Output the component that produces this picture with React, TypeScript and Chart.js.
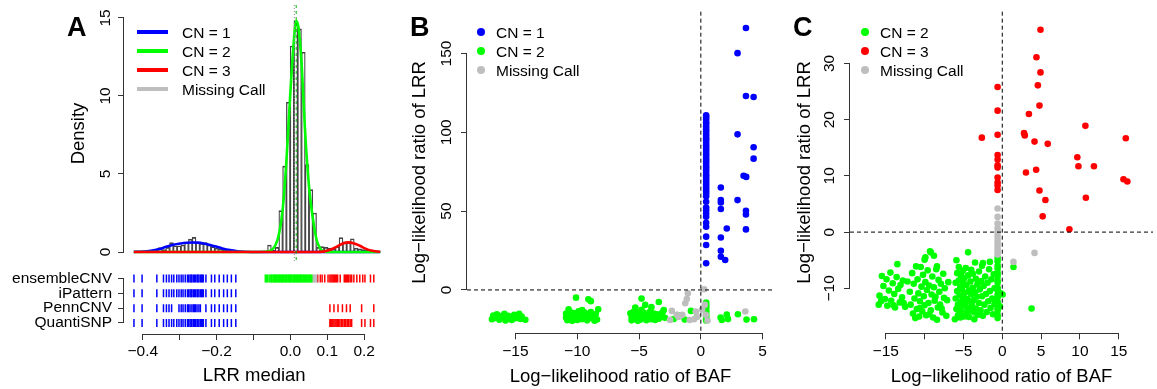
import React, { useEffect, useRef } from "react";
import { Chart, registerables } from "chart.js";

Chart.register(...registerables);

const FONT = "'Liberation Sans', Arial, Helvetica, sans-serif";
const BLUE = "#0000FF";
const GREEN = "#00FF00";
const RED = "#FF0000";
const GREY = "#BEBEBE";
const AXIS = "#333333";
const TICK_SIZE = 15.5;
const TITLE_SIZE = 18.5;

Chart.defaults.font.family = FONT;

type Pt = [number, number];

// ---------- Panel A: LRR median histogram and fitted densities ----------
const histBinCenters = [
  -0.415, -0.405, -0.395, -0.385, -0.375, -0.365, -0.355, -0.345, -0.335, -0.325,
  -0.315, -0.305, -0.295, -0.285, -0.275, -0.265, -0.255, -0.245, -0.235, -0.225,
  -0.215, -0.205, -0.195, -0.185, -0.175, -0.165, -0.155, -0.145, -0.135, -0.125,
  -0.115, -0.105, -0.095, -0.085, -0.075, -0.065, -0.055, -0.045, -0.035, -0.025,
  -0.015, -0.005, 0.005, 0.015, 0.025, 0.035, 0.045, 0.055, 0.065, 0.075,
  0.085, 0.095, 0.105, 0.115, 0.125, 0.135, 0.145, 0.155, 0.165, 0.175,
  0.185, 0.195, 0.205, 0.215, 0.225,
];
const histDensity = [
  0.08, 0.08, 0, 0, 0, 0.15, 0.28, 0.15, 0.3, 0.6,
  0.4, 0.4, 0.45, 0.6, 0.83, 0.94, 0.6, 0.55, 0.6, 0.45,
  0.35, 0.25, 0.2, 0.15, 0.1, 0.08, 0.05, 0.05, 0, 0,
  0, 0, 0, 0, 0, 0.45, 0.1, 0.3, 2.65, 5.5,
  9.6, 13.2, 14.8, 14.3, 12.8, 5.6, 4.0, 2.5, 0.3, 0.35,
  0.3, 0.25, 0.2, 0.35, 0.92, 0.66, 0.6, 0.85, 0.25, 0.2,
  0.15, 0.1, 0.08, 0.05, 0.05,
];

const cn1CurveX = [-0.425, -0.4, -0.38, -0.36, -0.34, -0.32, -0.3, -0.285, -0.27, -0.255, -0.24, -0.225, -0.21, -0.19, -0.17, -0.15, -0.13, -0.11, -0.09, 0.229];
const cn1CurveY = [0.01, 0.03, 0.08, 0.17, 0.33, 0.47, 0.55, 0.59, 0.61, 0.6, 0.55, 0.47, 0.37, 0.23, 0.12, 0.05, 0.015, 0.004, 0, 0];
const cn2CurveX = [-0.425, -0.09, -0.07, -0.06, -0.05, -0.04, -0.03, -0.02, -0.01, 0.0, 0.006, 0.012, 0.02, 0.03, 0.04, 0.05, 0.06, 0.07, 0.08, 0.1, 0.229];
const cn2CurveY = [0, 0, 0.03, 0.12, 0.4, 1.1, 2.7, 5.8, 10.0, 13.6, 14.8, 14.4, 12.2, 7.6, 4.2, 2.2, 0.8, 0.22, 0.05, 0, 0];
const cn3CurveX = [-0.425, 0.06, 0.08, 0.1, 0.115, 0.13, 0.145, 0.16, 0.175, 0.19, 0.205, 0.22, 0.229];
const cn3CurveY = [0, 0, 0.04, 0.18, 0.36, 0.54, 0.62, 0.55, 0.4, 0.22, 0.09, 0.03, 0.015];

// median LRR of the called CN=2 / all regions
const peakMarkers = { all: 0.001, cn2: 0.006 };

// ---------- Panel A: calls by each method ----------
const rugRowNames = ["QuantiSNP", "PennCNV", "iPattern", "ensembleCNV"];
const ensembleCN1 = [
  -0.424, -0.402, -0.362, -0.344, -0.336, -0.329, -0.322, -0.316, -0.308, -0.302,
  -0.296, -0.291, -0.285, -0.279, -0.276, -0.272, -0.269, -0.267, -0.263, -0.26,
  -0.257, -0.253, -0.251, -0.248, -0.244, -0.241, -0.239, -0.236, -0.229, -0.214,
  -0.205, -0.193, -0.181, -0.171, -0.16, -0.148,
];
const iPatternCN1 = ensembleCN1;
const pennCN1 = [
  -0.424, -0.402, -0.362, -0.344, -0.336, -0.329, -0.322, -0.302, -0.296, -0.291,
  -0.285, -0.279, -0.276, -0.272, -0.267, -0.263, -0.26, -0.257, -0.253, -0.248,
  -0.244, -0.229, -0.214, -0.205, -0.193, -0.181, -0.171, -0.16, -0.148,
];
const quantiCN1 = ensembleCN1;
const ensembleCN2 = [
  -0.068, -0.065, -0.062, -0.058, -0.055, -0.052, -0.05, -0.047, -0.045, -0.043,
  -0.04, -0.038, -0.036, -0.033, -0.031, -0.029, -0.027, -0.024, -0.022, -0.02,
  -0.018, -0.015, -0.013, -0.011, -0.009, -0.006, -0.004, -0.002, 0.0, 0.002,
  0.004, 0.007, 0.009, 0.011, 0.013, 0.016, 0.018, 0.02, 0.022, 0.025,
  0.027, 0.029, 0.031, 0.034, 0.036, 0.038, 0.041, 0.043, 0.045, 0.048,
  0.05, 0.052, 0.055, 0.058,
];
const ensembleMissing = [0.06, 0.063, 0.066, 0.068, 0.071];
const ensembleCN3 = [
  0.074, 0.081, 0.086, 0.093, 0.102, 0.107, 0.11, 0.113, 0.116, 0.119,
  0.122, 0.125, 0.128, 0.135, 0.146, 0.149, 0.152, 0.155, 0.158, 0.162,
  0.166, 0.172, 0.18, 0.188, 0.196, 0.202, 0.217, 0.226,
];
const pennCN3 = [0.107, 0.118, 0.129, 0.141, 0.152, 0.162, 0.193, 0.226];
const quantiCN3 = [
  0.107, 0.109, 0.112, 0.115, 0.118, 0.121, 0.124, 0.127, 0.13, 0.134,
  0.138, 0.142, 0.146, 0.15, 0.154, 0.158, 0.162, 0.166, 0.193, 0.202,
  0.217, 0.226,
];

// ---------- Panel B: deletions (BAF LLR, LRR LLR) ----------
const delCN1: Pt[] = [
  [0.43, 110.8], [0.43, 109.6], [0.43, 108.1], [0.43, 106.4], [0.43, 105.2], [0.43, 103.7],
  [0.43, 102.0], [0.43, 100.6], [0.43, 99.1], [0.43, 97.8], [0.43, 96.2], [0.43, 94.9],
  [0.43, 93.3], [0.43, 91.8], [0.43, 90.4], [0.43, 88.9], [0.43, 87.5], [0.43, 86.1],
  [0.43, 84.6], [0.43, 83.0], [0.43, 81.7], [0.43, 80.2], [0.43, 78.6], [0.43, 77.3],
  [0.43, 75.9], [0.43, 74.2], [0.43, 72.8], [0.43, 71.4], [0.43, 69.9], [0.43, 68.4],
  [0.43, 67.0], [0.43, 65.5], [0.43, 64.1], [0.43, 62.6], [0.43, 61.2], [0.43, 59.4],
  [0.43, 55.9], [0.43, 52.3], [0.43, 50.6], [0.43, 48.5], [0.43, 46.4], [0.43, 42.6],
  [0.43, 40.1], [0.43, 33.8], [0.43, 28.5], [0.43, 16.9],
  [1.62, 65], [1.62, 57], [1.62, 55.5], [1.62, 51.3], [1.62, 33.3], [1.62, 24.9], [1.62, 21.1],
  [1.97, 19], [2.1, 39], [2.97, 150.2], [2.97, 98.7], [2.97, 57], [3.46, 72.4], [3.67, 71.7],
  [3.65, 166.2], [3.65, 123], [3.65, 50.2], [3.65, 47.9], [3.65, 38.4], [4.27, 122.4],
  [4.27, 90.5], [4.27, 83.3],
];
const delCN2: Pt[] = [
  [-16.8, -16.2], [-16.6, -17.8], [-16.5, -15.4], [-16.3, -18.9], [-16.2, -16.7], [-16.0, -17.5],
  [-15.9, -15.1], [-15.7, -18.2], [-15.6, -16.4], [-15.4, -17.2], [-15.3, -19.1], [-15.1, -15.8],
  [-15.0, -17.9], [-14.9, -16.5], [-14.7, -15.2], [-14.6, -18.4], [-14.5, -16.9], [-16.9, -18.6],
  [-15.8, -19.4], [-14.2, -18.9],
  [-10.9, -15.0], [-10.9, -17.5], [-10.8, -19.2], [-10.7, -16.1], [-10.6, -13.9], [-10.6, -18.3],
  [-10.5, -15.4], [-10.4, -17.0], [-10.4, -19.6], [-10.3, -14.6], [-10.2, -16.4], [-10.1, -18.1],
  [-10.0, -15.7], [-10.0, -19.0], [-9.9, -13.6], [-9.8, -17.3], [-9.7, -15.2], [-9.6, -18.6],
  [-9.5, -16.5], [-9.4, -14.3], [-9.3, -17.8], [-9.2, -19.3], [-9.1, -15.8], [-9.0, -16.9],
  [-8.9, -14.0], [-8.8, -18.0], [-8.7, -16.2], [-8.6, -19.5], [-8.5, -15.3], [-8.3, -12.3],
  [-8.4, -18.7], [-10.1, -4.9], [-9.1, -5.9], [-8.9, -7.1], [-10.7, -12.2], [-9.6, -12.8],
  [-8.6, -17.4],
  [-5.7, -14.8], [-5.6, -17.2], [-5.6, -19.3], [-5.5, -16.0], [-5.4, -13.5], [-5.4, -18.4],
  [-5.3, -15.3], [-5.2, -17.6], [-5.1, -19.6], [-5.1, -14.2], [-5.0, -16.6], [-4.9, -18.9],
  [-4.8, -15.6], [-4.8, -12.6], [-4.7, -17.9], [-4.6, -14.5], [-4.5, -16.8], [-4.4, -19.2],
  [-4.3, -15.1], [-4.2, -17.5], [-4.1, -13.7], [-4.0, -18.6], [-3.9, -16.2], [-3.8, -14.9],
  [-3.7, -19.0], [-3.6, -17.0], [-3.5, -15.5], [-3.4, -18.2], [-3.2, -16.4], [-3.1, -14.1],
  [-3.0, -12.7], [-2.9, -17.7], [-4.8, -5.5], [-4.5, -9.5], [-3.4, -7.6], [-5.3, -11.2],
  [-4.0, -10.9],
  [-2.2, -18.4], [-1.9, -16.0], [-1.3, -18.8], [-0.8, -13.3], [-0.3, -16.9],
  [0.43, -8.0], [0.43, -9.3], [0.43, -10.2], [0.43, -11.1], [0.43, -12.1], [0.43, -13.5],
  [0.43, -14.7], [0.43, -15.8], [0.43, -16.9], [0.43, -17.8], [0.43, -18.6], [0.43, -19.4],
  [1.6, -17.5], [2.1, -15.6], [2.2, -18.5], [3.0, -15.4], [3.7, -18.8], [4.3, -18.6], [1.7, -19.0],
];
const delMissing: Pt[] = [
  [-1.05, -2.1], [-1.13, -5.7], [-1.26, -8.4], [-2.35, -13.3], [-2.49, -19.0], [-1.95, -15.8],
  [-1.5, -15.8], [-0.41, -13.7], [-0.27, -16.9], [-0.54, -18.6], [0.27, 0.4], [0.32, -9.5],
  [0.4, -15.8], [0.54, -19.4], [3.6, -13.7], [-1.8, -17.2], [-0.9, -19.1], [0.1, -12.4],
];

// ---------- Panel C: duplications (BAF LLR, LRR LLR) ----------
const dupCN2: Pt[] = [
  [-15.9, -12.9], [-15.8, -11.3], [-15.5, -7.8], [-15.3, -9.6], [-15.1, -11.9], [-14.9, -8.4],
  [-14.8, -13.1], [-14.6, -10.4], [-14.4, -7.2], [-14.3, -12.2], [-14.1, -9.1], [-13.9, -11.0],
  [-13.8, -13.4], [-13.6, -8.0], [-13.5, -5.7], [-13.4, -10.1], [-13.2, -12.5], [-13.1, -9.4],
  [-12.9, -11.6], [-12.8, -8.6], [-12.7, -12.6], [-12.5, -13.3], [-12.2, -8.8], [-15.6, -12.3],
  [-14.0, -13.0],
  [-11.9, -10.6], [-11.8, -12.9], [-11.6, -7.3], [-11.5, -14.5], [-11.4, -9.2], [-11.3, -11.8],
  [-11.1, -6.1], [-11.0, -13.7], [-10.9, -8.4], [-10.8, -10.9], [-10.7, -15.0], [-10.6, -12.3],
  [-10.5, -6.2], [-10.4, -9.7], [-10.3, -14.1], [-10.2, -7.6], [-10.1, -11.4], [-10.0, -13.0],
  [-9.9, -4.5], [-9.9, -8.9], [-9.8, -14.8], [-9.7, -10.3], [-9.6, -6.8], [-9.5, -12.6],
  [-9.4, -9.5], [-9.3, -3.4], [-9.2, -13.9], [-9.2, -3.6], [-9.1, -11.1], [-9.0, -7.9],
  [-8.9, -15.2], [-8.8, -9.8], [-8.7, -12.2], [-8.6, -11.5], [-8.5, -6.6], [-8.4, -6.1],
  [-8.4, -15.6], [-8.3, -13.4], [-8.2, -8.5], [-8.1, -10.6], [-8.0, -12.9], [-7.9, -9.2],
  [-7.7, -14.3], [-7.6, -7.4], [-7.5, -11.7], [-7.4, -10.0], [-11.2, -15.3], [-10.0, -4.9],
  [-8.8, -4.2], [-7.8, -13.6], [-6.95, -8.9], [-7.1, -12.1], [-7.2, -14.9], [-10.6, -13.5],
  [-9.4, -14.6],
  [-6.1, -15.5], [-6.0, -11.8], [-6.0, -9.0], [-5.9, -13.7], [-5.9, -5.0], [-5.8, -7.3],
  [-5.8, -10.5], [-5.7, -12.9], [-5.7, -14.8], [-5.6, -6.2], [-5.6, -8.6], [-5.5, -11.2],
  [-5.5, -13.9], [-5.4, -9.7], [-5.4, -15.2], [-5.3, -7.8], [-5.3, -12.4], [-5.2, -10.1],
  [-5.2, -14.2], [-5.1, -6.9], [-5.1, -11.7], [-5.0, -9.1], [-5.0, -13.1], [-4.9, -15.0],
  [-4.9, -8.2], [-4.8, -10.8], [-4.8, -12.7], [-4.7, -6.4], [-4.7, -14.4], [-4.6, -9.4],
  [-4.5, -11.9], [-4.5, -13.4], [-4.4, -3.6], [-4.4, -7.7], [-4.3, -10.4], [-4.3, -15.1],
  [-4.2, -12.3], [-4.1, -8.8], [-4.1, -14.0], [-4.0, -6.7], [-4.0, -11.0], [-3.9, -13.0],
  [-3.8, -9.9], [-3.8, -7.4], [-3.7, -12.1], [-3.6, -15.5], [-3.6, -14.3], [-3.5, -5.4],
  [-3.5, -10.7], [-3.4, -8.3], [-3.4, -13.6], [-3.3, -11.5], [-3.2, -9.3], [-3.1, -14.7],
  [-3.0, -7.0], [-3.0, -12.6], [-2.9, -10.2], [-2.8, -13.9], [-2.7, -8.7], [-2.6, -11.4],
  [-2.5, -5.5], [-2.5, -14.9], [-2.4, -9.6], [-2.3, -12.9], [-2.2, -7.9], [-2.1, -11.0],
  [-2.0, -14.2], [-1.9, -9.0], [-1.8, -12.3], [-1.7, -6.6], [-1.6, -10.5], [-1.5, -13.5],
  [-1.4, -8.4], [-1.3, -11.8], [-1.2, -14.6], [-1.1, -7.5], [-1.0, -10.0], [-1.0, -12.8],
  [-2.6, -6.0], [-1.6, -5.3],
  [-0.6, -4.6], [-0.6, -5.2], [-0.6, -6.0], [-0.6, -6.5], [-0.6, -7.3], [-0.6, -7.8],
  [-0.6, -8.6], [-0.6, -9.0], [-0.6, -9.9], [-0.6, -10.3], [-0.6, -11.1], [-0.6, -11.6],
  [-0.6, -12.4], [-0.6, -12.8], [-0.6, -13.6], [-0.6, -14.0], [-0.6, -14.8], [-0.6, -15.3],
  [0.04, -11.1], [1.44, -6.2], [3.77, -13.6], [-0.2, -10.9], [-0.3, -13.2],
];
const dupCN3: Pt[] = [
  [4.92, 36.0], [4.4, 31.1], [4.92, 28.4], [4.58, 26.1], [4.79, 22.5], [-0.6, 25.8],
  [-0.6, 21.6], [3.43, 21.0], [-2.63, 16.8], [-0.6, 17.3], [2.8, 17.6], [2.9, 17.2],
  [4.15, 16.1], [5.85, 15.7], [10.7, 18.9], [15.9, 16.7], [9.66, 13.3], [9.8, 11.7],
  [11.8, 11.7], [-0.6, 13.7], [-0.6, 12.9], [-0.6, 11.9], [-0.6, 11.5], [-0.6, 9.7],
  [-0.6, 8.8], [-0.6, 8.3], [-0.6, 7.5], [3.05, 10.6], [4.36, 11.1], [4.79, 7.4],
  [5.55, 5.7], [5.2, 2.8], [8.64, 0.5], [10.76, 6.1], [15.6, 9.4], [16.1, 9.0],
];
const dupMissing: Pt[] = [
  [-0.6, 4.2], [-0.6, 2.7], [-0.6, 1.5], [-0.6, 0.7], [-0.6, 0.0], [-0.6, -0.6],
  [-0.6, -1.2], [-0.6, -1.8], [-0.6, -2.4], [-0.6, -3.0], [-0.6, -3.5], [-0.6, -4.0],
  [1.44, -5.3], [4.15, -3.7],
];

// ---------- Axis ticks ----------
const lrrTicks = [-0.4, -0.3, -0.2, -0.1, 0, 0.1, 0.2];
const lrrTickLabels = ["\u22120.4", "", "\u22120.2", "", "0.0", "0.1", "0.2"];
const densityTicks = [0, 5, 10, 15];
const densityTickLabels = ["0", "5", "10", "15"];
const rugTicks = [1, 2, 3, 4];
const bafTicksB = [-15, -10, -5, 0, 5];
const bafTickLabelsB = ["\u221215", "\u221210", "\u22125", "0", "5"];
const llrTicksB = [0, 50, 100, 150];
const llrTickLabelsB = ["0", "50", "100", "150"];
const bafTicksC = [-15, -10, -5, 0, 5, 10, 15];
const bafTickLabelsC = ["\u221215", "", "\u22125", "0", "5", "10", "15"];
const llrTicksC = [-10, 0, 10, 20, 30];
const llrTickLabelsC = ["\u221210", "0", "10", "20", "30"];

const BAF_TITLE = "Log\u2212likelihood ratio of BAF";
const LRR_TITLE = "Log\u2212likelihood ratio of LRR";

// ---------- helpers ----------
const toXY = (pts: Pt[]) => pts.map(([x, y]) => ({ x, y }));
const zipXY = (xs: number[], ys: number[]) => xs.map((x, i) => ({ x, y: ys[i] }));
const rugXY = (vals: number[], row: number) => vals.map((x) => ({ x, y: row }));

interface AxisSpec {
  pos: "left" | "bottom";
  min: number;
  max: number;
  ticks: number[];
  labels: string[];
  size: number;
  labelPad: number;
  rotated?: boolean;
  title?: string;
  titlePad?: number;
  display?: boolean;
}

function axis(s: AxisSpec): any {
  return {
    type: "linear",
    position: s.pos,
    min: s.min,
    max: s.max,
    bounds: "data",
    offset: false,
    display: s.display !== false,
    afterBuildTicks: (sc: any) => {
      sc.ticks = s.ticks.map((value) => ({ value }));
    },
    afterFit: (sc: any) => {
      if (s.pos === "left") sc.width = s.size;
      else sc.height = s.size;
      // labels may overhang the plot region, as in base graphics
      sc.paddingTop = 0;
      sc.paddingBottom = 0;
      sc.paddingLeft = 0;
      sc.paddingRight = 0;
    },
    grid: {
      display: true,
      drawOnChartArea: false,
      drawTicks: true,
      tickLength: 6,
      color: AXIS,
      lineWidth: 1,
      offset: false,
    },
    border: { display: false },
    ticks: {
      autoSkip: false,
      color: "#000",
      padding: s.labelPad,
      font: { family: FONT, size: TICK_SIZE },
      minRotation: s.rotated ? 90 : 0,
      maxRotation: s.rotated ? 90 : 0,
      crossAlign: s.rotated ? "center" : "near",
      callback: (_v: any, i: number) => s.labels[i],
    },
    title: s.title
      ? {
          display: true,
          text: s.title,
          color: "#000",
          font: { family: FONT, size: TITLE_SIZE, lineHeight: 1.2 },
          padding: s.pos === "left" ? { top: s.titlePad, bottom: 0 } : { top: 0, bottom: s.titlePad },
        }
      : { display: false },
  };
}

// R-style axis line running from the first to the last tick
const axisLinePlugin = {
  id: "axisLine",
  afterDraw(chart: any) {
    const ctx = chart.ctx;
    ctx.save();
    ctx.strokeStyle = AXIS;
    ctx.lineWidth = 1;
    Object.values(chart.scales).forEach((s: any) => {
      if (!s.options.display || !s.ticks.length) return;
      const a = s.getPixelForValue(s.ticks[0].value);
      const b = s.getPixelForValue(s.ticks[s.ticks.length - 1].value);
      ctx.beginPath();
      if (s.isHorizontal()) {
        const y = Math.round(s.top) + 0.5;
        ctx.moveTo(a, y);
        ctx.lineTo(b, y);
      } else {
        const x = Math.round(s.right) - 0.5;
        ctx.moveTo(x, a);
        ctx.lineTo(x, b);
      }
      ctx.stroke();
    });
    ctx.restore();
  },
};

interface RefLine {
  axis: "x" | "y";
  value: number;
  color: string;
  dash: number[];
  width: number;
}

function refLinePlugin(lines: RefLine[]) {
  return {
    id: "refLines",
    afterDatasetsDraw(chart: any) {
      const { ctx, chartArea } = chart;
      ctx.save();
      lines.forEach((l) => {
        ctx.strokeStyle = l.color;
        ctx.lineWidth = l.width;
        ctx.setLineDash(l.dash);
        ctx.beginPath();
        if (l.axis === "x") {
          const px = chart.scales.x.getPixelForValue(l.value);
          ctx.moveTo(px, chartArea.top);
          ctx.lineTo(px, chartArea.bottom);
        } else {
          const py = chart.scales.y.getPixelForValue(l.value);
          ctx.moveTo(chartArea.left, py);
          ctx.lineTo(chartArea.right, py);
        }
        ctx.stroke();
      });
      ctx.restore();
    },
  };
}

const baseOptions = (padding: any) => ({
  responsive: false,
  animation: false,
  devicePixelRatio: 1,
  events: [],
  layout: { padding },
  plugins: { legend: { display: false }, tooltip: { enabled: false }, title: { display: false } },
});

function scatterSet(pts: Pt[], color: string, order: number) {
  return {
    type: "scatter",
    data: toXY(pts),
    showLine: false,
    order,
    pointStyle: "circle",
    pointRadius: 3.3,
    radius: 3.3,
    pointBackgroundColor: color,
    backgroundColor: color,
    pointBorderColor: color,
    borderColor: color,
    pointBorderWidth: 0,
    borderWidth: 0,
  };
}

function rugSet(vals: number[], row: number, color: string) {
  return {
    type: "scatter",
    data: rugXY(vals, row),
    showLine: false,
    pointStyle: "line",
    pointRotation: 90,
    rotation: 90,
    pointRadius: 4,
    radius: 4,
    pointBorderColor: color,
    borderColor: color,
    pointBorderWidth: 1.5,
    borderWidth: 1.5,
  };
}

function curveSet(xs: number[], ys: number[], color: string, order: number) {
  return {
    type: "line",
    data: zipXY(xs, ys),
    borderColor: color,
    borderWidth: 2.6,
    pointRadius: 0,
    fill: false,
    cubicInterpolationMode: "monotone",
    order,
  };
}

// ---------- chart configs ----------
function densityConfig(): any {
  return {
    type: "bar",
    data: {
      datasets: [
        curveSet(cn3CurveX, cn3CurveY, RED, 0),
        curveSet(cn2CurveX, cn2CurveY, GREEN, 1),
        curveSet(cn1CurveX, cn1CurveY, BLUE, 2),
        {
          type: "bar",
          data: zipXY(histBinCenters, histDensity),
          backgroundColor: "rgba(255,255,255,0)",
          borderColor: "#444444",
          borderWidth: { top: 1, left: 0.6, right: 0.6, bottom: 0 },
          borderSkipped: false,
          barPercentage: 1,
          categoryPercentage: 1,
          order: 3,
        },
      ],
    },
    options: {
      ...baseOptions({ left: 0, top: 5, right: 0, bottom: 0 }),
      scales: {
        x: axis({ pos: "bottom", min: -0.451, max: 0.255, ticks: lrrTicks, labels: lrrTickLabels, size: 0, labelPad: 0, display: false }),
        y: axis({ pos: "left", min: -0.64, max: 15.83, ticks: densityTicks, labels: densityTickLabels, size: 124, labelPad: 3.4, rotated: true, title: "Density", titlePad: 67.9 }),
      },
    },
    plugins: [
      axisLinePlugin,
      refLinePlugin([
        { axis: "x", value: peakMarkers.all, color: "#8C8C8C", dash: [1, 2], width: 1 },
        { axis: "x", value: peakMarkers.cn2, color: "#00B400", dash: [3, 3], width: 1 },
      ]),
    ],
  };
}

function rugConfig(): any {
  return {
    type: "scatter",
    data: {
      datasets: [
        rugSet(ensembleCN1, 4, BLUE),
        rugSet(ensembleCN2, 4, GREEN),
        rugSet(ensembleMissing, 4, GREY),
        rugSet(ensembleCN3, 4, RED),
        rugSet(iPatternCN1, 3, BLUE),
        rugSet(pennCN1, 2, BLUE),
        rugSet(pennCN3, 2, RED),
        rugSet(quantiCN1, 1, BLUE),
        rugSet(quantiCN3, 1, RED),
      ],
    },
    options: {
      ...baseOptions({ left: 0, top: 0, right: 0, bottom: 0 }),
      scales: {
        x: axis({ pos: "bottom", min: -0.451, max: 0.255, ticks: lrrTicks, labels: lrrTickLabels, size: 55, labelPad: 2.4, title: "LRR median", titlePad: 1.9 }),
        y: axis({ pos: "left", min: 0.25, max: 4.75, ticks: rugTicks, labels: rugRowNames, size: 124, labelPad: 6 }),
      },
    },
    plugins: [axisLinePlugin],
  };
}

function deletionConfig(): any {
  return {
    type: "scatter",
    data: {
      datasets: [scatterSet(delCN1, BLUE, 0), scatterSet(delMissing, GREY, 1), scatterSet(delCN2, GREEN, 2)],
    },
    options: {
      ...baseOptions({ left: 0, top: 11.7, right: 16, bottom: 0 }),
      scales: {
        x: axis({ pos: "bottom", min: -18.92, max: 5.92, ticks: bafTicksB, labels: bafTickLabelsB, size: 55.7, labelPad: 3.1, title: BAF_TITLE, titlePad: 1.2 }),
        y: axis({ pos: "left", min: -27.5, max: 176.5, ticks: llrTicksB, labels: llrTickLabelsB, size: 77, labelPad: 1.4, rotated: true, title: LRR_TITLE, titlePad: 18.9 }),
      },
    },
    plugins: [
      axisLinePlugin,
      refLinePlugin([
        { axis: "x", value: 0, color: "#000", dash: [4, 3], width: 1 },
        { axis: "y", value: 0, color: "#000", dash: [4, 3], width: 1 },
      ]),
    ],
  };
}

function duplicationConfig(): any {
  return {
    type: "scatter",
    data: {
      datasets: [scatterSet(dupCN3, RED, 0), scatterSet(dupMissing, GREY, 1), scatterSet(dupCN2, GREEN, 2)],
    },
    options: {
      ...baseOptions({ left: 0, top: 11.7, right: 0, bottom: 0 }),
      scales: {
        x: axis({ pos: "bottom", min: -19.6, max: 19.4, ticks: bafTicksC, labels: bafTickLabelsC, size: 55.7, labelPad: 3.1, title: BAF_TITLE, titlePad: 1.2 }),
        y: axis({ pos: "left", min: -18, max: 39.2, ticks: llrTicksC, labels: llrTickLabelsC, size: 60, labelPad: 0.9, rotated: true, title: LRR_TITLE, titlePad: 3.9 }),
      },
    },
    plugins: [
      axisLinePlugin,
      refLinePlugin([
        { axis: "x", value: 0, color: "#000", dash: [4, 3], width: 1 },
        { axis: "y", value: 0, color: "#000", dash: [4, 3], width: 1 },
      ]),
    ],
  };
}

// ---------- components ----------
function ChartCanvas(props: { left: number; top: number; width: number; height: number; make: () => any }) {
  const ref = useRef<HTMLCanvasElement>(null);
  useEffect(() => {
    if (!ref.current) return;
    const chart = new Chart(ref.current, props.make());
    return () => chart.destroy();
  }, []);
  return (
    <canvas
      ref={ref}
      width={props.width}
      height={props.height}
      style={{ position: "absolute", left: props.left, top: props.top, width: props.width, height: props.height }}
    />
  );
}

const textStyle = { fontFamily: FONT, color: "#000", whiteSpace: "nowrap" as const };

function PanelLetter(props: { x: number; text: string }) {
  return (
    <div style={{ ...textStyle, position: "absolute", left: props.x, top: 13.5, fontSize: 27, fontWeight: 700, lineHeight: "27px" }}>
      {props.text}
    </div>
  );
}

interface LegendItem {
  label: string;
  color: string;
}

const legendA: LegendItem[] = [
  { label: "CN = 1", color: BLUE },
  { label: "CN = 2", color: GREEN },
  { label: "CN = 3", color: RED },
  { label: "Missing Call", color: GREY },
];
const legendB: LegendItem[] = [
  { label: "CN = 1", color: BLUE },
  { label: "CN = 2", color: GREEN },
  { label: "Missing Call", color: GREY },
];
const legendC: LegendItem[] = [
  { label: "CN = 2", color: GREEN },
  { label: "CN = 3", color: RED },
  { label: "Missing Call", color: GREY },
];

function Legend(props: { items: LegendItem[]; keyX: number; textX: number; kind: "line" | "dot" }) {
  const rows = [32, 51, 70, 89];
  return (
    <>
      {props.items.map((it, i) => {
        const cy = rows[i];
        return (
          <React.Fragment key={it.label + i}>
            {props.kind === "line" ? (
              <div style={{ position: "absolute", left: props.keyX, top: cy - 1.75, width: 31, height: 3.5, background: it.color }} />
            ) : (
              <div
                style={{
                  position: "absolute",
                  left: props.keyX - 4.25,
                  top: cy - 4.25,
                  width: 8.5,
                  height: 8.5,
                  borderRadius: "50%",
                  background: it.color,
                }}
              />
            )}
            <div style={{ ...textStyle, position: "absolute", left: props.textX, top: cy - 9.5, height: 19, lineHeight: "19px", fontSize: TICK_SIZE }}>
              {it.label}
            </div>
          </React.Fragment>
        );
      })}
    </>
  );
}

export default function App() {
  return (
    <div style={{ position: "fixed", left: 0, top: 0, width: 1157, height: 389, background: "#fff", overflow: "hidden" }}>
      <ChartCanvas left={0} top={0} width={390} height={262} make={densityConfig} />
      <ChartCanvas left={0} top={262} width={390} height={127} make={rugConfig} />
      <ChartCanvas left={390} top={0} width={400} height={389} make={deletionConfig} />
      <ChartCanvas left={790} top={0} width={367} height={389} make={duplicationConfig} />
      <PanelLetter x={67} text="A" />
      <PanelLetter x={410} text="B" />
      <PanelLetter x={793} text="C" />
      <Legend items={legendA} keyX={137} textX={182} kind="line" />
      <Legend items={legendB} keyX={481} textX={496} kind="dot" />
      <Legend items={legendC} keyX={865} textX={880} kind="dot" />
    </div>
  );
}
